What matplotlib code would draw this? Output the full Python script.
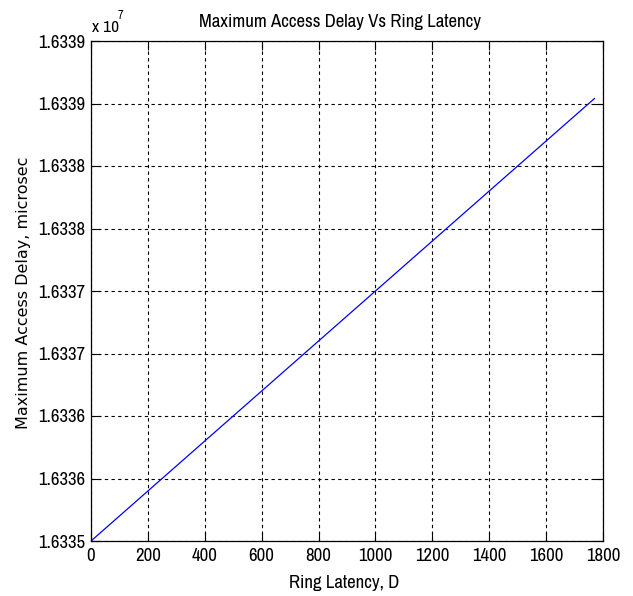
import matplotlib
matplotlib.use("Agg")
import matplotlib.pyplot as plt

NARROW = ["Archivo Narrow", "Liberation Sans", "DejaVu Sans"]
plt.rcParams["font.family"] = NARROW

# ring latency D and maximum access delay (microsec)
ring_latency = [0, 1770]
max_delay = [16335000, 16338540]

x_ticks = [0, 200, 400, 600, 800, 1000, 1200, 1400, 1600, 1800]
y_ticks = [16335000, 16335500, 16336000, 16336500, 16337000,
           16337500, 16338000, 16338500, 16339000]
y_tick_labels = ["1.6335", "1.6336", "1.6336", "1.6337", "1.6337",
                 "1.6338", "1.6338", "1.6339", "1.6339"]

W, H = 633, 596
fig = plt.figure(figsize=(W / 100, H / 100), dpi=100)
ax = fig.add_axes([91 / W, 1 - 541 / H, 512 / W, 500 / H])

ax.plot(ring_latency, max_delay, color="#0000ff", linewidth=0.9)

ax.set_xlim(0, 1800)
ax.set_ylim(y_ticks[0], y_ticks[-1])
ax.set_xticks(x_ticks)
ax.set_yticks(y_ticks)
ax.set_yticklabels(y_tick_labels)

ax.grid(True, color="black", linestyle=(0, (3, 3)), linewidth=0.8)
ax.tick_params(direction="in", top=True, right=True, length=6.5, width=0.8,
               labelsize=13.5, colors="black")
ax.tick_params(axis="y", pad=4.3)
ax.tick_params(axis="x", pad=5)
for s in ax.spines.values():
    s.set_color("black")
    s.set_linewidth(0.9)

# title, x label and exponent placed in figure pixels
fig.text(340.5 / W, 1 - 27 / H, "Maximum Access Delay Vs Ring Latency",
         fontsize=13.5, ha="center", va="baseline")
fig.text(344.5 / W, 1 - 588 / H, "Ring Latency, D",
         fontsize=13.5, ha="center", va="baseline")
fig.text(92 / W, 1 - 32 / H, "x 10", fontsize=12.5, ha="left", va="baseline")
fig.text(117.5 / W, 1 - 19 / H, "7", fontsize=9, ha="left", va="baseline")

ax.set_ylabel("Maximum Access Delay, microsec", fontsize=11.5,
              family=["DejaVu Sans"])
ax.yaxis.set_label_coords(-0.117, 0.497)

fig.savefig("out.png", dpi=100)
